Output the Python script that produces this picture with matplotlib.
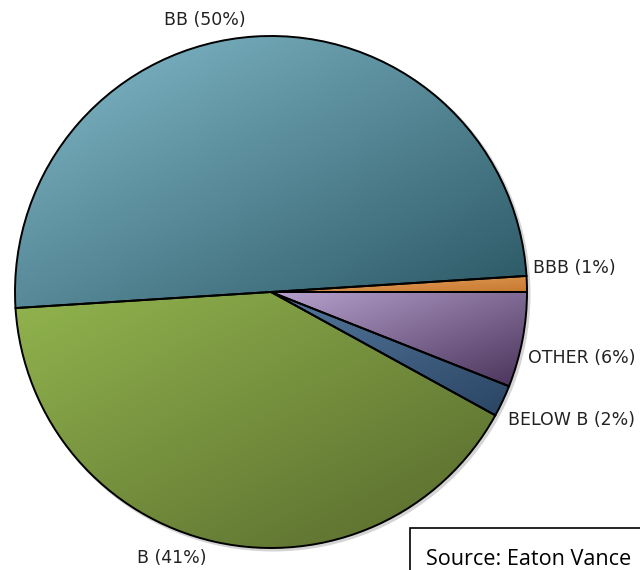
import numpy as np
import matplotlib
matplotlib.use('Agg')
import matplotlib.pyplot as plt
from matplotlib.patches import Circle, Rectangle
from matplotlib.colors import to_rgb

# rating mix, counter-clockwise from 3 o'clock
ratings = ['BBB', 'BB', 'B', 'BELOW B', 'OTHER']
shares = [1, 50, 41, 2, 6]
light_cols = ['#eaa760', '#84bccc', '#92b44e', '#55799e', '#b8a3cf']
dark_cols = ['#c67830', '#2a5663', '#56692c', '#2b4564', '#49335a']

W, H = 640, 570
cx, cy, rad = 271, H - 292, 256

fig = plt.figure(figsize=(6.4, 5.7), dpi=100)
ax = fig.add_axes([0, 0, 1, 1])

wedges, _ = ax.pie(shares, colors=light_cols, startangle=0, counterclock=True,
                   center=(cx, cy), radius=rad,
                   wedgeprops=dict(edgecolor='black', linewidth=1.4))
ax.set_aspect('auto')
ax.axis('off')

# soft shadow behind the pie
ax.add_patch(Circle((cx + 2, cy - 2), rad + 1.5, facecolor='#a0a0a0',
                    edgecolor='none', alpha=0.45, zorder=0.2))

# gradient fill: light top-left -> dark bottom-right
for w, c1, c2 in zip(wedges, light_cols, dark_cols):
    bb = w.get_path().get_extents()
    n = 200
    xx, yy = np.meshgrid(np.linspace(0, 1, n), np.linspace(0, 1, n))
    t = (xx + (1 - yy)) / 2.0
    a, b = np.array(to_rgb(c1)), np.array(to_rgb(c2))
    img = a[None, None, :] * (1 - t[..., None]) + b[None, None, :] * t[..., None]
    im = ax.imshow(img, extent=(bb.x0, bb.x1, bb.y0, bb.y1), origin='lower',
                   interpolation='bilinear', zorder=0.5, aspect='auto')
    im.set_clip_path(w)
    w.set_facecolor('none')
    w.set_zorder(1)

ax.set_xlim(0, W)
ax.set_ylim(0, H)

lab_kw = dict(fontsize=12.5, color='#222222', family='DejaVu Sans')
ax.text(205, H - 20, 'BB (50%)', ha='center', va='center', **lab_kw)
ax.text(533, H - 268, 'BBB (1%)', ha='left', va='center', **lab_kw)
ax.text(528, H - 358, 'OTHER (6%)', ha='left', va='center', **lab_kw)
ax.text(508, H - 420, 'BELOW B (2%)', ha='left', va='center', **lab_kw)
ax.text(172, H - 558, 'B (41%)', ha='center', va='center', **lab_kw)

# source box (runs off the edge, as in the original)
ax.add_patch(Rectangle((410, -20), 300, H - 528 + 20, facecolor='white',
                       edgecolor='black', linewidth=1.2, zorder=3))
ax.text(426, H - 565, 'Source: Eaton Vance', ha='left', va='baseline',
        fontsize=15.6, family=['Open Sans', 'DejaVu Sans'], color='black', zorder=4)

fig.savefig('out.png', dpi=100)
